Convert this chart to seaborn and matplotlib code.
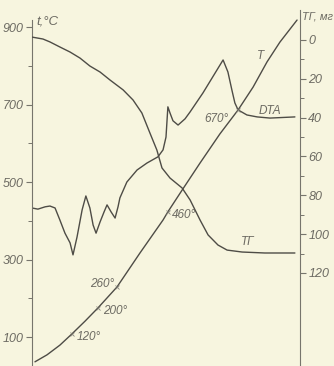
import matplotlib
matplotlib.use("Agg")
import matplotlib.pyplot as plt
import pandas as pd
import seaborn as sns

# time axis is unlabeled in the original: 0..100 arbitrary units
T_TIME = [1.1, 5.6, 10.4, 14.9, 19.8, 24.6, 31.7, 40.3, 48.9, 50.7,
          56.0, 62.7, 70.1, 76.9, 82.5, 87.7, 92.5, 98.9]
T_TEMP = [36, 54, 79, 108, 141, 175, 229, 317, 402, 423,
          479, 549, 624, 686, 745, 810, 861, 918]
T_MARKS = [3, 5, 6, 9, 13]
T_MARK_LABELS = ["120°", "200°", "260°", "460°", "670°"]

TG_TIME = [0.0, 4.1, 6.7, 10.4, 14.2, 17.9, 21.6, 25.4, 29.1, 34.0, 37.7,
           41.0, 44.0, 46.6, 48.5, 51.5, 56.0, 59.0, 62.7, 65.7, 69.4,
           72.8, 78.4, 86.9, 98.1]
TG_MASS = [-1.5, -0.5, 1.0, 3.6, 6.2, 9.3, 13.4, 16.5, 20.6, 25.7, 30.9,
           37.6, 47.9, 56.7, 65.9, 71.1, 76.2, 82.4, 92.7, 100.4, 105.6,
           108.2, 109.2, 109.7, 109.7]

DTA_TIME = [0.0, 2.2, 4.9, 6.7, 8.6, 10.4, 12.3, 14.2, 15.3, 16.8, 18.7,
            20.1, 21.6, 22.8, 23.9, 25.4, 26.9, 28.0, 29.5, 31.0, 32.1,
            32.8, 35.4, 39.2, 42.9, 47.0, 48.9, 50.0, 50.7, 51.5, 52.6,
            54.5, 57.1, 59.0, 63.8, 68.3, 71.3, 73.1, 74.6, 75.7, 76.9,
            80.2, 84.0, 88.8, 98.1]
DTA_SIGNAL = [433, 430, 436, 438, 433, 402, 368, 343, 312, 358, 428,
              464, 433, 389, 368, 397, 423, 441, 423, 407, 436,
              459, 500, 531, 549, 565, 583, 616, 694, 678, 658,
              647, 663, 681, 730, 781, 815, 784, 737, 704, 686,
              673, 668, 665, 668]

INK = "#4e4c46"
TEXT = "#6c6a62"
PAPER = "#f7f5df"


def main() -> None:
    sns.set_theme(style="white", rc={"axes.facecolor": PAPER, "figure.facecolor": PAPER})
    plt.rcParams["font.family"] = ["Liberation Sans", "DejaVu Sans"]

    fig = plt.figure(figsize=(3.34, 3.66), dpi=100)
    ax = fig.add_axes([32 / 334, 0, 268 / 334, 1])
    ax2 = ax.twinx()

    t_df = pd.DataFrame({"time": T_TIME, "temp": T_TEMP})
    dta_df = pd.DataFrame({"time": DTA_TIME, "signal": DTA_SIGNAL})
    tg_df = pd.DataFrame({"time": TG_TIME, "mass": TG_MASS})

    sns.lineplot(data=t_df, x="time", y="temp", ax=ax, color=INK, lw=1.0, sort=False)
    sns.lineplot(data=dta_df, x="time", y="signal", ax=ax, color=INK, lw=1.0, sort=False)
    sns.lineplot(data=tg_df, x="time", y="mass", ax=ax2, color=INK, lw=1.0, sort=False)

    mark_x = [T_TIME[i] for i in T_MARKS]
    mark_y = [T_TEMP[i] for i in T_MARKS]
    ax.plot(mark_x, mark_y, ls="none", marker="x", ms=3, mew=0.6, color="#8a887e")

    ax.set_xlim(0, 100)
    ax.set_ylim(25.2, 969.7)
    ax2.set_ylim(167.9, -20.6)

    ax.set_xlabel("")
    ax.set_ylabel("")
    ax2.set_ylabel("")
    ax.set_xticks([])

    tick_font = dict(fontsize=9, style="italic", color=TEXT)
    ax.set_yticks([100, 300, 500, 700, 900])
    ax.set_yticklabels(["100", "300", "500", "700", "900"], **tick_font)
    ax.set_yticks([200, 400, 600, 800], minor=True)
    ax2.set_yticks([0, 20, 40, 60, 80, 100, 120])
    ax2.set_yticklabels(["0", "20", "40", "60", "80", "100", "120"], **tick_font)
    ax2.set_yticks([10, 30, 50, 70, 90, 110], minor=True)

    for a in (ax, ax2):
        a.tick_params(axis="y", which="major", direction="out", length=4,
                      width=0.8, color="#77756c", pad=2)
        a.tick_params(axis="y", which="minor", direction="out", length=3,
                      width=0.7, color="#77756c")
        for side in ("top", "bottom"):
            a.spines[side].set_visible(False)
    ax.spines["right"].set_visible(False)
    ax2.spines["left"].set_visible(False)
    ax.spines["left"].set_color("#77756c")
    ax.spines["left"].set_linewidth(0.8)
    ax.spines["left"].set_bounds(25.2, 918)
    ax2.spines["right"].set_color("#77756c")
    ax2.spines["right"].set_linewidth(0.8)
    ax2.spines["right"].set_bounds(-15.5, 167.9)
    ax.tick_params(axis="y", which="both", left=True, right=False)
    ax2.tick_params(axis="y", which="both", left=False, right=True)

    note = dict(fontsize=8.5, style="italic", color=TEXT, ha="center", va="center")
    ax.text(5.6, 913, "t,°C", fontsize=9.5, style="italic", color=TEXT,
            ha="center", va="center", clip_on=False)
    ax.text(100.6, 928, "ТГ, мг", fontsize=8, style="italic", color=TEXT,
            ha="left", va="center", clip_on=False)
    label_pos = [(21.3, 100), (31.0, 167), (26.1, 237), (56.7, 415), (68.7, 663)]
    for (lx, ly), lab in zip(label_pos, T_MARK_LABELS):
        ax.text(lx, ly, lab, **note)
    ax.text(85.1, 825, "T", **note)
    ax.text(88.8, 683, "DTA", **note)
    ax.text(80.6, 345, "ТГ", **note)

    fig.savefig("out.png", dpi=100, facecolor=PAPER)
    plt.close(fig)


if __name__ == "__main__":
    main()
